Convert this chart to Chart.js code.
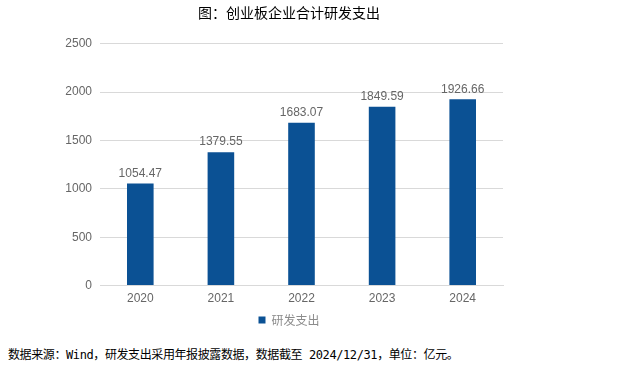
<!DOCTYPE html>
<html>
<head>
<meta charset="utf-8">
<script src="https://cdn.jsdelivr.net/npm/chart.js@4/dist/chart.umd.min.js"></script>
<style>
  body { margin: 0; background: #fff; }
  #wrap { position: absolute; left: 0; top: 0; width: 578px; height: 340px; }
  #note {
    position: absolute; left: 8px; top: 345px;
    font-family: "DejaVu Sans Mono", "Noto Sans CJK SC", monospace;
    font-size: 12px; color: #000; white-space: nowrap; letter-spacing: -0.4px;
  }
</style>
</head>
<body>
<div id="wrap"><canvas id="rdChart"></canvas></div>
<div id="note">数据来源：Wind，研发支出采用年报披露数据，数据截至 2024/12/31，单位：亿元。</div>
<script>
var years = ['2020', '2021', '2022', '2023', '2024'];
var rdSpend = [1054.47, 1379.55, 1683.07, 1849.59, 1926.66];

// value labels above bars
var barLabels = {
    id: 'barLabels',
    afterDatasetsDraw: function (chart) {
        var ctx = chart.ctx;
        var meta = chart.getDatasetMeta(0);
        ctx.save();
        ctx.font = '12px "Liberation Sans", Arial, sans-serif';
        ctx.fillStyle = '#666666';
        ctx.textAlign = 'center';
        ctx.textBaseline = 'bottom';
        meta.data.forEach(function (bar, i) {
            ctx.fillText(rdSpend[i].toFixed(2), bar.x, bar.y - 4);
        });
        ctx.restore();
    }
};

document.addEventListener('DOMContentLoaded', function () {
    var ctx = document.getElementById('rdChart').getContext('2d');
    new Chart(ctx, {
        type: 'bar',
        data: {
            labels: years,
            datasets: [{
                label: '研发支出',
                data: rdSpend,
                backgroundColor: '#0B5194',
                categoryPercentage: 1,
                barPercentage: 0.33
            }]
        },
        plugins: [barLabels],
        options: {
            responsive: true,
            maintainAspectRatio: false,
            animation: false,
            layout: { padding: { left: 0, right: 0, top: 0, bottom: 4 } },
            plugins: {
                title: {
                    display: true,
                    text: '图：创业板企业合计研发支出',
                    color: '#000',
                    font: { family: '"Noto Sans CJK SC", sans-serif', size: 14, weight: 'normal' },
                    padding: { top: 4, bottom: 23 }
                },
                legend: {
                    position: 'bottom',
                    labels: {
                        boxWidth: 7,
                        boxHeight: 7,
                        padding: 2,
                        color: '#8c8c8c',
                        font: { family: '"Noto Sans CJK SC", sans-serif', size: 12 }
                    }
                },
                tooltip: { enabled: false }
            },
            scales: {
                x: {
                    grid: { display: false, drawTicks: false },
                    border: { color: '#d9d9d9' },
                    ticks: {
                        color: '#666666',
                        padding: 6,
                        font: { family: '"Liberation Sans", Arial, sans-serif', size: 12 }
                    }
                },
                y: {
                    min: 0,
                    max: 2500,
                    afterFit: function (scale) { scale.width = 100; },
                    grid: { color: '#d9d9d9', drawTicks: false },
                    border: { display: false },
                    ticks: {
                        stepSize: 500,
                        color: '#666666',
                        padding: 8,
                        callback: function (v) { return String(v); },
                        font: { family: '"Liberation Sans", Arial, sans-serif', size: 12 }
                    }
                },
                // empty right-hand space so title/legend centre over the full canvas
                yPad: {
                    type: 'linear',
                    position: 'right',
                    afterFit: function (scale) { scale.width = 75; },
                    grid: { display: false, drawTicks: false },
                    border: { display: false },
                    ticks: { display: false }
                }
            }
        }
    });
});
</script>
</body>
</html>
